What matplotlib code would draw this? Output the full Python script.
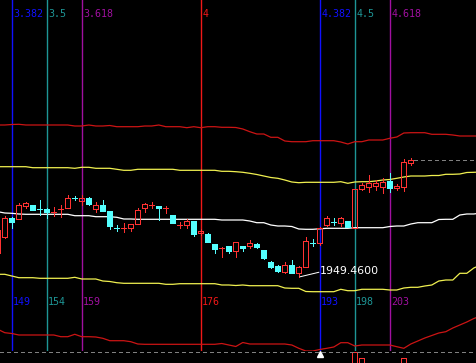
import matplotlib
matplotlib.use("Agg")
import matplotlib.pyplot as plt
from matplotlib.patches import Rectangle
import matplotlib.transforms as mtransforms

# ---------------- data ----------------
bar_index = list(range(147, 207))
open_ = [1973.8, 1990.1, 2009.1, 2007.5, 2021.1, 2021.5, 2018.0, 2017.8, 2015.1, 2017.5,
         2019.1, 2028.5, 2025.8, 2029.1, 2017.8, 2021.8, 2015.8, 1999.1, 1999.1, 1999.1,
         2002.5, 2018.5, 2021.8, 2020.8, 2018.5, 2011.8, 2001.8, 2001.8, 2005.8, 1993.5,
         1992.5, 1982.5, 1979.1, 1980.8, 1975.8, 1980.8, 1981.1, 1982.5, 1976.8, 1964.5,
         1960.8, 1955.1, 1961.8, 1953.5, 1960.1, 1984.1, 1983.5, 2001.8, 2004.5, 2004.1,
         2006.1, 1999.3, 2037.8, 2039.5, 2040.8, 2039.8, 2045.8, 2038.5, 2039.8, 2063.5]
high = [1996.8, 2010.8, 2009.8, 2023.8, 2024.8, 2021.8, 2026.8, 2018.8, 2020.1, 2021.8,
        2031.8, 2030.8, 2031.8, 2029.8, 2025.1, 2026.8, 2015.8, 2001.8, 2003.8, 2002.8,
        2019.1, 2023.5, 2025.1, 2020.8, 2020.8, 2011.8, 2005.1, 2007.5, 2005.8, 1997.8,
        1993.8, 1982.8, 1980.1, 1980.8, 1984.8, 1980.8, 1986.8, 1983.5, 1976.8, 1965.8,
        1961.8, 1964.5, 1966.8, 1960.8, 1989.8, 1987.5, 1999.8, 2010.8, 2008.5, 2009.5,
        2006.1, 2037.8, 2043.8, 2051.8, 2046.8, 2048.5, 2053.8, 2042.8, 2067.8, 2068.8]
low = [1973.8, 1988.8, 1999.1, 2007.5, 2018.8, 2016.8, 2011.8, 2008.8, 2010.8, 2010.1,
       2018.8, 2026.8, 2021.8, 2021.8, 2015.1, 2015.8, 1997.5, 1995.8, 1995.1, 1995.8,
       2002.5, 2015.1, 2018.5, 2006.8, 2013.5, 2003.5, 1999.1, 1998.5, 1990.8, 1991.8,
       1985.3, 1973.5, 1970.1, 1973.5, 1970.1, 1975.8, 1979.1, 1978.5, 1967.8, 1958.8,
       1954.8, 1954.1, 1953.8, 1949.46, 1959.8, 1980.8, 1981.8, 2000.8, 2001.8, 2000.8,
       1999.5, 1999.3, 2036.8, 2035.1, 2036.8, 2034.1, 2035.1, 2036.8, 2036.1, 2061.8]
close = [1996.8, 2009.1, 2004.5, 2021.8, 2023.5, 2016.8, 2017.8, 2015.1, 2015.1, 2017.5,
         2029.1, 2028.2, 2029.1, 2022.5, 2021.8, 2015.8, 2001.1, 1998.8, 1999.1, 2002.5,
         2016.8, 2022.5, 2021.8, 2018.5, 2018.5, 2003.5, 2001.8, 2005.8, 1992.5, 1995.8,
         1985.3, 1977.8, 1979.1, 1975.8, 1984.5, 1978.5, 1984.1, 1980.1, 1968.5, 1959.5,
         1955.8, 1961.8, 1954.1, 1960.1, 1986.3, 1983.8, 1998.5, 2008.5, 2004.2, 2008.5,
         1999.5, 2037.8, 2041.8, 2043.5, 2043.5, 2045.1, 2039.1, 2041.1, 2064.8, 2066.8]

line_index = list(range(147, 217))
mid_line = [2015.1, 2013.8, 2013.5, 2012.8, 2012.5, 2012.5, 2012.5, 2012.5, 2012.5, 2012.5,
            2012.5, 2011.1, 2011.1, 2011.1, 2010.1, 2010.1, 2010.1, 2009.5, 2007.8, 2007.8,
            2007.5, 2007.5, 2007.5, 2007.5, 2007.5, 2007.5, 2007.5, 2007.5, 2007.5, 2007.5,
            2007.5, 2007.5, 2006.8, 2006.8, 2006.8, 2006.8, 2005.8, 2004.1, 2004.1, 2001.8,
            2000.8, 2000.8, 2000.3, 1997.8, 1997.5, 1997.5, 1998.0, 1998.5, 1998.5, 1998.5,
            1998.5, 1999.1, 1999.1, 1999.1, 1999.1, 1999.1, 2000.3, 2000.8, 2000.8, 2002.8,
            2004.1, 2004.1, 2004.1, 2007.3, 2007.5, 2007.5, 2011.8, 2012.8, 2012.8, 2013.8]
upper_inner = [2060.1, 2060.1, 2060.1, 2060.1, 2060.1, 2059.1, 2059.1, 2059.1, 2059.1, 2059.1,
               2059.1, 2058.5, 2059.5, 2059.5, 2058.5, 2058.5, 2058.5, 2057.5, 2056.5, 2056.5,
               2057.5, 2057.5, 2057.5, 2057.5, 2057.5, 2057.5, 2056.5, 2056.5, 2056.5, 2056.5,
               2056.5, 2056.5, 2055.5, 2055.5, 2055.1, 2054.5, 2053.5, 2052.3, 2050.8, 2049.3,
               2048.5, 2046.8, 2044.8, 2044.1, 2044.5, 2044.5, 2044.5, 2044.5, 2044.5, 2045.1,
               2043.5, 2044.8, 2045.1, 2045.1, 2045.8, 2046.8, 2047.3, 2048.5, 2049.8, 2050.8,
               2050.8, 2050.8, 2051.3, 2051.3, 2052.5, 2052.5, 2052.8, 2054.3, 2054.5, 2054.8]
upper_outer = [2101.8, 2101.8, 2102.3, 2102.5, 2101.8, 2101.8, 2101.8, 2101.8, 2101.8, 2101.8,
               2101.8, 2100.8, 2100.8, 2101.8, 2100.8, 2100.8, 2101.3, 2100.1, 2100.1, 2100.1,
               2100.1, 2100.8, 2100.8, 2101.8, 2100.1, 2100.1, 2100.1, 2099.1, 2100.1, 2099.1,
               2100.1, 2100.1, 2099.5, 2099.5, 2099.3, 2097.8, 2095.1, 2092.8, 2092.8, 2089.5,
               2089.5, 2085.8, 2085.1, 2085.1, 2085.1, 2086.1, 2086.1, 2086.1, 2086.1, 2084.8,
               2082.8, 2085.1, 2085.1, 2086.8, 2086.8, 2086.8, 2088.5, 2089.8, 2093.8, 2094.1,
               2094.1, 2094.1, 2092.5, 2092.5, 2092.5, 2091.8, 2090.8, 2090.8, 2090.8, 2090.8]
lower_inner = [1952.5, 1952.5, 1950.8, 1949.1, 1949.1, 1949.1, 1948.5, 1948.5, 1948.5, 1948.5,
               1948.5, 1949.5, 1947.8, 1947.8, 1947.8, 1945.8, 1945.3, 1944.1, 1943.5, 1943.5,
               1943.5, 1943.5, 1943.5, 1943.5, 1942.5, 1942.5, 1943.1, 1943.1, 1943.1, 1943.1,
               1943.1, 1943.1, 1941.8, 1941.8, 1941.3, 1941.8, 1941.1, 1941.1, 1941.1, 1941.1,
               1941.1, 1938.8, 1938.5, 1938.5, 1935.3, 1935.1, 1935.1, 1935.1, 1935.1, 1937.5,
               1936.1, 1936.1, 1937.5, 1937.5, 1937.5, 1937.5, 1936.8, 1936.8, 1938.8, 1939.5,
               1939.5, 1940.8, 1941.8, 1945.8, 1946.8, 1946.8, 1953.5, 1953.5, 1958.8, 1961.8]
lower_outer = [1897.5, 1894.1, 1893.3, 1891.8, 1891.8, 1891.8, 1891.8, 1891.8, 1891.8, 1890.1,
               1890.1, 1892.5, 1890.1, 1890.1, 1889.8, 1888.5, 1886.1, 1886.1, 1886.1, 1885.1,
               1882.8, 1882.5, 1882.5, 1882.5, 1882.5, 1882.5, 1882.5, 1882.5, 1882.5, 1882.5,
               1882.5, 1882.5, 1883.3, 1881.8, 1880.3, 1884.3, 1882.8, 1882.8, 1882.8, 1882.8,
               1882.8, 1882.8, 1881.8, 1878.5, 1875.8, 1875.8, 1877.3, 1878.5, 1879.8, 1884.1,
               1884.1, 1880.8, 1881.8, 1881.8, 1881.8, 1881.8, 1881.8, 1880.1, 1878.5, 1882.8,
               1885.8, 1888.8, 1891.3, 1893.8, 1895.1, 1898.8, 1901.8, 1904.8, 1908.3, 1910.8]

fib_bars = [149, 154, 159, 176, 193, 198, 203]
fib_ratios = ["3.382", "3.5", "3.618", "4", "4.382", "4.5", "4.618"]
fib_labels = ["149", "154", "159", "176", "193", "198", "203"]

vol_bars = [198, 199, 205]
vol_values = [99.5, 92.5, 92.5]

low_bar = 190
low_text = "1949.4600"
low_value = 1949.46

# ---------------- style ----------------
W, H = 477, 363
MAIN_H = 351
PX = 72.0 / 100.0  # one pixel in points

C_UP = "#FF3232"
C_DN = "#54FFFF"
C_MID = "#FFFFFF"
C_YEL = "#F0F050"
C_RED = "#CC1414"
fib_colors = ["#1010FF", "#1E9696", "#A010A0", "#F01818",
              "#1010FF", "#1E9696", "#A010A0"]

fig = plt.figure(figsize=(W / 100, H / 100), dpi=100, facecolor="black")
ax = fig.add_axes([0, (H - MAIN_H) / H, 1, MAIN_H / H])
ax.set_facecolor("black")
x0 = 147.314
ax.set_xlim(x0, x0 + W / 7.0)
ax.set_ylim(1875.8, 2226.8)
ax.axis("off")

# fib time-zone vertical lines and labels
btrans = mtransforms.blended_transform_factory(ax.transData, ax.transAxes)
mono = "DejaVu Sans Mono"
for b, r, lab, c in zip(fib_bars, fib_ratios, fib_labels, fib_colors):
    ax.axvline(b, color=c, lw=1.0, zorder=1)
    ax.text(b + 0.2, 1 - 14.0 / MAIN_H, r, color=c, fontsize=7.2, family=mono,
            ha="left", va="center", transform=btrans, zorder=5)
    ax.text(b + 0.2, 1 - 302.0 / MAIN_H, lab, color=c, fontsize=7.2, family=mono,
            ha="left", va="center", transform=btrans, zorder=5)

# bands
for ys, c in [(upper_outer, C_RED), (lower_outer, C_RED),
              (upper_inner, C_YEL), (lower_inner, C_YEL), (mid_line, C_MID)]:
    ax.plot(line_index, ys, color=c, lw=0.9, antialiased=True, zorder=2)

# candles
bw = 0.7
for i, o, h, l, c in zip(bar_index, open_, high, low, close):
    up = c >= o
    col = C_UP if up else C_DN
    top, bot = max(o, c), min(o, c)
    if top - bot < 0.8:
        ax.plot([i, i], [l, h], color=col, lw=PX, antialiased=False, zorder=3)
        ax.plot([i - bw / 2, i + bw / 2], [o, o], color=col, lw=PX, antialiased=False, zorder=3)
        continue
    if up:
        ax.plot([i, i], [top, h], color=col, lw=PX, antialiased=False, zorder=3)
        ax.plot([i, i], [l, bot], color=col, lw=PX, antialiased=False, zorder=3)
        ax.add_patch(Rectangle((i - bw / 2, bot), bw, top - bot, fill=False,
                               edgecolor=col, lw=PX, antialiased=False, zorder=3))
    else:
        ax.plot([i, i], [l, h], color=col, lw=PX, antialiased=False, zorder=3)
        ax.add_patch(Rectangle((i - bw / 2, bot), bw, top - bot, facecolor=col,
                               edgecolor=col, lw=PX, antialiased=False, zorder=3))

# last close dashed line
ax.plot([bar_index[-1] + 0.5, x0 + W / 7.0], [close[-1], close[-1]], color="#808080",
        lw=PX, dashes=(4, 3), antialiased=False, zorder=2)

# low annotation
ax.plot([low_bar + 0.2, 192.85], [low_value + 0.6, 1954.5], color="white", lw=PX, zorder=4)
ax.text(193.03, 1955.4, low_text, color="white", fontsize=7.9, ha="left", va="center", zorder=5)

# panel separator
fig.add_artist(plt.Line2D([0, 1], [(H - MAIN_H - 0.5) / H] * 2, color="#808080",
                          lw=PX, dashes=(3, 3), antialiased=False))

# volume panel (only top visible)
vax = fig.add_axes([0, (H - MAIN_H - 1) / H - 0.2303, 1, 0.2303])
vax.set_facecolor("none")
vax.set_xlim(x0, x0 + W / 7.0)
vax.set_ylim(0, 100)
vax.axis("off")
for b, v in zip(vol_bars, vol_values):
    vax.add_patch(Rectangle((b - bw / 2, 0), bw, v, fill=False, edgecolor=C_UP,
                            lw=PX, antialiased=False))
vax.plot([fib_bars[4]], [98.0], marker="^", color="white", markersize=4.5,
         clip_on=False, zorder=5)

fig.savefig("out.png", dpi=100, facecolor="black")
